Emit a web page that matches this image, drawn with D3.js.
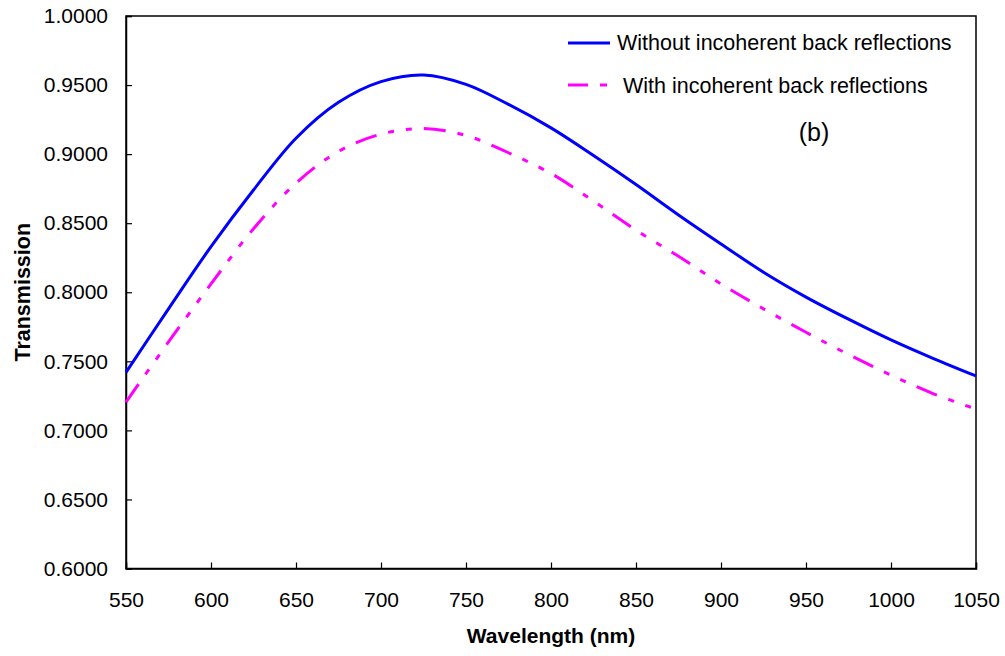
<!DOCTYPE html>
<html>
<head>
<meta charset="utf-8">
<script src="https://cdn.jsdelivr.net/npm/d3@7"></script>
<style>
  body { margin: 0; background: #fff; }
  text { font-family: "Liberation Sans", Arial, sans-serif; }
</style>
</head>
<body>
<svg id="chart"></svg>
<script>
// wavelength (nm)
var wavelength = [550, 575, 600, 625, 650, 675, 700, 725, 750, 775, 800, 825, 850, 875, 900, 925, 950, 975, 1000, 1025, 1050];
// transmission without incoherent back reflections
var withoutBack = [0.742, 0.788, 0.833, 0.874, 0.9115, 0.9375, 0.9525, 0.9573, 0.9505, 0.936, 0.919, 0.899, 0.878, 0.856, 0.835, 0.8145, 0.7965, 0.7805, 0.7655, 0.752, 0.7394];
// transmission with incoherent back reflections
var withBack = [0.7205, 0.764, 0.806, 0.846, 0.879, 0.902, 0.9145, 0.9185, 0.9135, 0.901, 0.886, 0.866, 0.845, 0.826, 0.806, 0.788, 0.771, 0.755, 0.740, 0.7265, 0.7155];

var xTicks = [550, 600, 650, 700, 750, 800, 850, 900, 950, 1000, 1050];
var yTicks = [0.60, 0.65, 0.70, 0.75, 0.80, 0.85, 0.90, 0.95, 1.00];

var seriesNames = ["Without incoherent back reflections", "With incoherent back reflections"];

var width = 1005, height = 656;
var margin = {left: 126, top: 16, right: 29, bottom: 87.5};
var w = width - margin.left - margin.right;
var h = height - margin.top - margin.bottom;

var svg = d3.select("#chart").attr("width", width).attr("height", height);
var g = svg.append("g").attr("transform", "translate(" + margin.left + "," + margin.top + ")");

var x = d3.scaleLinear().domain([550, 1050]).range([0, w]);
var y = d3.scaleLinear().domain([0.6, 1.0]).range([h, 0]);

// frame
g.append("rect")
  .attr("width", w).attr("height", h)
  .attr("fill", "none").attr("stroke", "#000").attr("stroke-width", 1.5);

var xAxis = g.append("g")
  .attr("transform", "translate(0," + h + ")")
  .call(d3.axisBottom(x).tickValues(xTicks).tickSize(-6).tickPadding(24).tickFormat(d3.format("d")));
var yAxis = g.append("g")
  .call(d3.axisLeft(y).tickValues(yTicks).tickSize(-6).tickPadding(18).tickFormat(d3.format(".4f")));

[xAxis, yAxis].forEach(function(a) {
  a.select(".domain").attr("stroke-width", 1.5);
  a.selectAll(".tick line").attr("stroke-width", 1.2);
  a.selectAll("text").attr("font-size", "21px").attr("font-family", "Liberation Sans, Arial, sans-serif").attr("fill", "#000");
});

var line = d3.line().curve(d3.curveCatmullRom.alpha(0.5));

function pts(vals) {
  return wavelength.map(function(d, i) { return [x(d), y(vals[i])]; });
}

g.append("path")
  .attr("d", line(pts(withoutBack)))
  .attr("fill", "none").attr("stroke", "#0000ff").attr("stroke-width", 3);

g.append("path")
  .attr("d", line(pts(withBack)))
  .attr("fill", "none").attr("stroke", "#ff00ff").attr("stroke-width", 3)
  .attr("stroke-dasharray", "22,12,6,12,6,12");

// legend
var leg = svg.append("g");
leg.append("line").attr("x1", 568).attr("x2", 610).attr("y1", 43).attr("y2", 43)
  .attr("stroke", "#0000ff").attr("stroke-width", 3);
leg.append("text").attr("x", 617).attr("y", 50).attr("font-size", "21.5px").text(seriesNames[0]);
leg.append("line").attr("x1", 568).attr("x2", 608).attr("y1", 85).attr("y2", 85)
  .attr("stroke", "#ff00ff").attr("stroke-width", 3).attr("stroke-dasharray", "20,12,7,20");
leg.append("text").attr("x", 623).attr("y", 92.5).attr("font-size", "21.5px").text(seriesNames[1]);

// panel label
svg.append("text").attr("x", 814).attr("y", 141).attr("text-anchor", "middle")
  .attr("font-family", "Open Sans, Noto Sans, sans-serif").attr("font-size", "25px").text("(b)");

// axis titles
svg.append("text")
  .attr("x", margin.left + w / 2).attr("y", 643)
  .attr("text-anchor", "middle").attr("font-weight", "bold").attr("font-size", "21px")
  .text("Wavelength (nm)");
svg.append("text")
  .attr("transform", "translate(30," + (margin.top + h / 2) + ")rotate(-90)")
  .attr("text-anchor", "middle").attr("font-weight", "bold").attr("font-size", "21.5px")
  .text("Transmission");
</script>
</body>
</html>
